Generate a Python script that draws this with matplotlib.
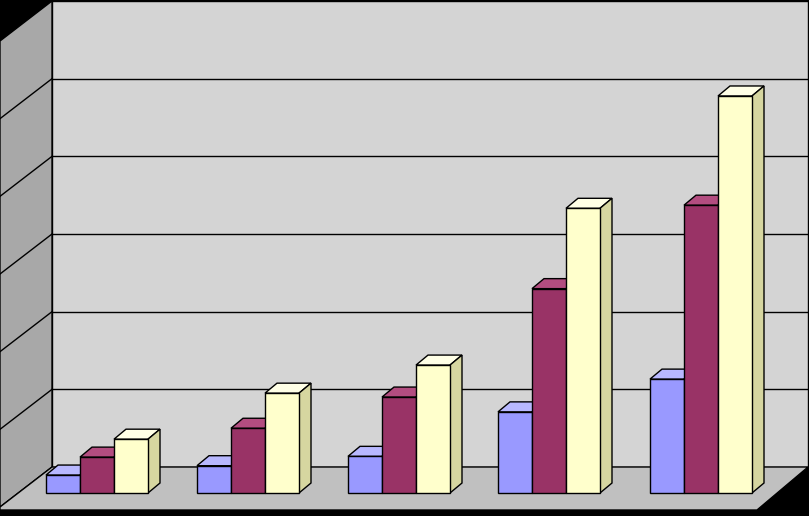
import matplotlib
matplotlib.use("Agg")
import matplotlib.pyplot as plt
from matplotlib.patches import Polygon

categories = ["1", "2", "3", "4", "5"]
series_a = [0.23, 0.35, 0.47, 1.04, 1.46]
series_b = [0.46, 0.83, 1.23, 2.62, 3.69]
series_c = [0.69, 1.28, 1.64, 3.65, 5.09]
gridvals = [1, 2, 3, 4, 5, 6]

PX = 78.0  # pixels per unit
BASE = 493.0
def u(py):  # pixel y -> units
    return (BASE - py) / PX

fig = plt.figure(figsize=(8.09, 5.16), dpi=100, facecolor="black")
ax = fig.add_axes([0, 0, 1, 1])
ax.set_xlim(0, 809)
ax.set_ylim(u(516), u(0))
ax.axis("off")

def poly(pts, fc, lw=1.0, z=1):
    ax.add_patch(Polygon([(x, u(y)) for x, y in pts], closed=True, fc=fc, ec="black", lw=lw, zorder=z))

# walls
poly([(52, 1), (808, 1), (808, 467), (52, 467)], "#d4d4d4")
poly([(0, 41), (52, 1), (52, 467), (0, 507)], "#a8a8a8")
poly([(0, 507), (52, 467), (808, 467), (757, 510), (0, 510)], "#c0c0c0")
for g in gridvals[:-1]:
    y = u(467) + g * (u(1) - u(467)) / 6
    ax.plot([52, 808], [y, y], color="black", lw=1, zorder=2)
    ax.plot([0, 52], [y - 40 / PX, y], color="black", lw=1, zorder=2)

dx, dy = 12, 10 / PX
w = 34
starts = [46, 197, 348, 498, 650]
colors = [("#9999ff", "#b8b8ff", "#7070c0"),
          ("#993366", "#b34d80", "#6e2449"),
          ("#ffffcc", "#ffffe6", "#d6d6a0")]
for i, s in enumerate(starts):
    for j, vals in enumerate([series_a, series_b, series_c]):
        v = vals[i]
        x0 = s + j * w
        front, top, side = colors[j]
        ax.bar(x0, v, width=w, bottom=0, align="edge", color=front, edgecolor="black", lw=1, zorder=5)
        ax.add_patch(Polygon([(x0, v), (x0 + dx, v + dy), (x0 + w + dx, v + dy), (x0 + w, v)],
                             fc=top, ec="black", lw=1, zorder=4))
        ax.add_patch(Polygon([(x0 + w, 0), (x0 + w + dx, dy), (x0 + w + dx, v + dy), (x0 + w, v)],
                             fc=side, ec="black", lw=1, zorder=4))

fig.savefig("out.png", dpi=100, facecolor="black")
